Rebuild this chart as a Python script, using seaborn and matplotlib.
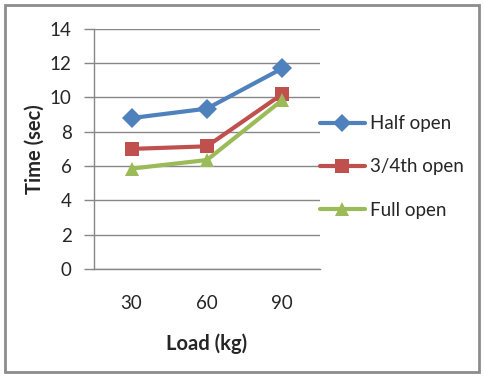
import pandas as pd
import seaborn as sns
import matplotlib.pyplot as plt

# values
loads = ['30', '60', '90']
half_open = [8.8, 9.35, 11.7]
three_quarter_open = [7.0, 7.15, 10.2]
full_open = [5.85, 6.35, 9.85]
series_names = ['Half open', '3/4th open', 'Full open']

df = pd.DataFrame({
    'Load': loads * 3,
    'Time': half_open + three_quarter_open + full_open,
    'Series': [s for s in series_names for _ in loads],
})

sns.set_style('white')
plt.rcParams['font.family'] = ['Lato', 'DejaVu Sans']

fig = plt.figure(figsize=(4.84, 3.76), dpi=100)
ax = fig.add_axes([0.194, 0.285, 0.467, 0.638])

colors = {'Half open': '#4F81BD', '3/4th open': '#C0504D', 'Full open': '#9BBB59'}
markers = {'Half open': 'D', '3/4th open': 's', 'Full open': '^'}

sns.lineplot(data=df, x='Load', y='Time', hue='Series', style='Series',
             palette=colors, markers=markers, dashes=False, linewidth=3,
             markersize=10.5, markeredgewidth=0, ax=ax)

ax.set_ylim(0, 14)
ax.set_yticks(range(0, 15, 2))
ax.set_xlim(-0.5, 2.5)
ax.grid(axis='y', color='#878787', linewidth=1)
ax.set_axisbelow(True)
for side in ['top', 'right']:
    ax.spines[side].set_visible(False)
for side in ['left', 'bottom']:
    ax.spines[side].set_color('#878787')
    ax.spines[side].set_linewidth(1)

ax.tick_params(axis='y', which='both', left=True, length=7, width=1, color='#878787', pad=9, labelsize=13.5)
ax.tick_params(axis='x', length=0, pad=19, labelsize=13.5)

ax.set_ylabel('Time (sec)', fontsize=14.5, fontweight='bold', labelpad=4)
ax.set_xlabel('Load (kg)', fontsize=14.5, fontweight='bold', labelpad=15)

leg = ax.legend(loc='center left', bbox_to_anchor=(0.925, 0.425), frameon=False,
                fontsize=13.5, handlelength=2.4, handletextpad=0.3, labelspacing=1.4,
                markerscale=0.9)

# outer frame like the reference screenshot
fig.patches.append(plt.Rectangle((0.01, 0.011), 0.98, 0.976, transform=fig.transFigure,
                                 fill=False, edgecolor='#8c8c8c', linewidth=2))

plt.savefig('out.png', dpi=100)
